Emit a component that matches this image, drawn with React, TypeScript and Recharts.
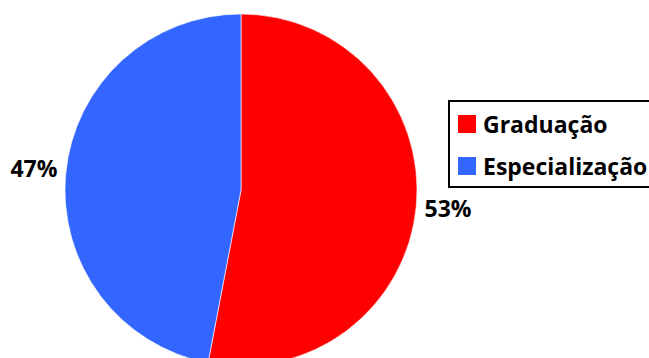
import { PieChart, Pie, Cell, Legend } from 'recharts';

const categories = ['Graduação', 'Especialização'];
const shares = [53, 47];
const colors = ['#FF0000', '#3366FF'];

const data = categories.map((name, i) => ({ name, value: shares[i] }));

const FONT = '"Open Sans", Calibri, sans-serif';
const RAD = Math.PI / 180;

function renderLabel(props: any) {
  const { cx, cy, midAngle, outerRadius, value } = props;
  const r = outerRadius + 32;
  const x = cx + r * Math.cos(-midAngle * RAD);
  const y = cy + r * Math.sin(-midAngle * RAD) - 2;
  return (
    <text
      x={x}
      y={y}
      textAnchor="middle"
      dominantBaseline="central"
      fontFamily={FONT}
      fontWeight={700}
      fontSize={23}
      fill="#000"
    >
      {value}%
    </text>
  );
}

function LegendBox() {
  return (
    <div
      style={{
        border: '2px solid #000',
        width: 260,
        height: 88,
        boxSizing: 'border-box',
        padding: '11px 0 0 8px',
        fontFamily: FONT,
        fontWeight: 700,
        fontSize: 23,
        color: '#000',
        background: '#fff',
      }}
    >
      {categories.map((c, i) => (
        <div key={c} style={{ display: 'flex', alignItems: 'center', height: 22, marginBottom: 20 }}>
          <span style={{ width: 18, height: 18, background: colors[i], marginRight: 7, display: 'inline-block' }} />
          <span style={{ lineHeight: '22px', whiteSpace: 'nowrap' }}>{c}</span>
        </div>
      ))}
    </div>
  );
}

export default function App() {
  return (
    <div style={{ position: 'absolute', left: 0, top: 0, width: 649, height: 358, overflow: 'hidden', background: '#fff' }}>
      <PieChart width={649} height={358} style={{ overflow: 'visible' }}>
        <Pie
          data={data}
          dataKey="value"
          nameKey="name"
          cx={236}
          cy={185}
          outerRadius={176}
          startAngle={90}
          endAngle={-270}
          stroke="#fff"
          strokeWidth={0.6}
          label={renderLabel}
          labelLine={false}
          isAnimationActive={false}
        >
          {data.map((d, i) => (
            <Cell key={d.name} fill={colors[i]} />
          ))}
        </Pie>
        <Legend content={<LegendBox />} wrapperStyle={{ left: 448, top: 100, width: 260 }} />
      </PieChart>
    </div>
  );
}
